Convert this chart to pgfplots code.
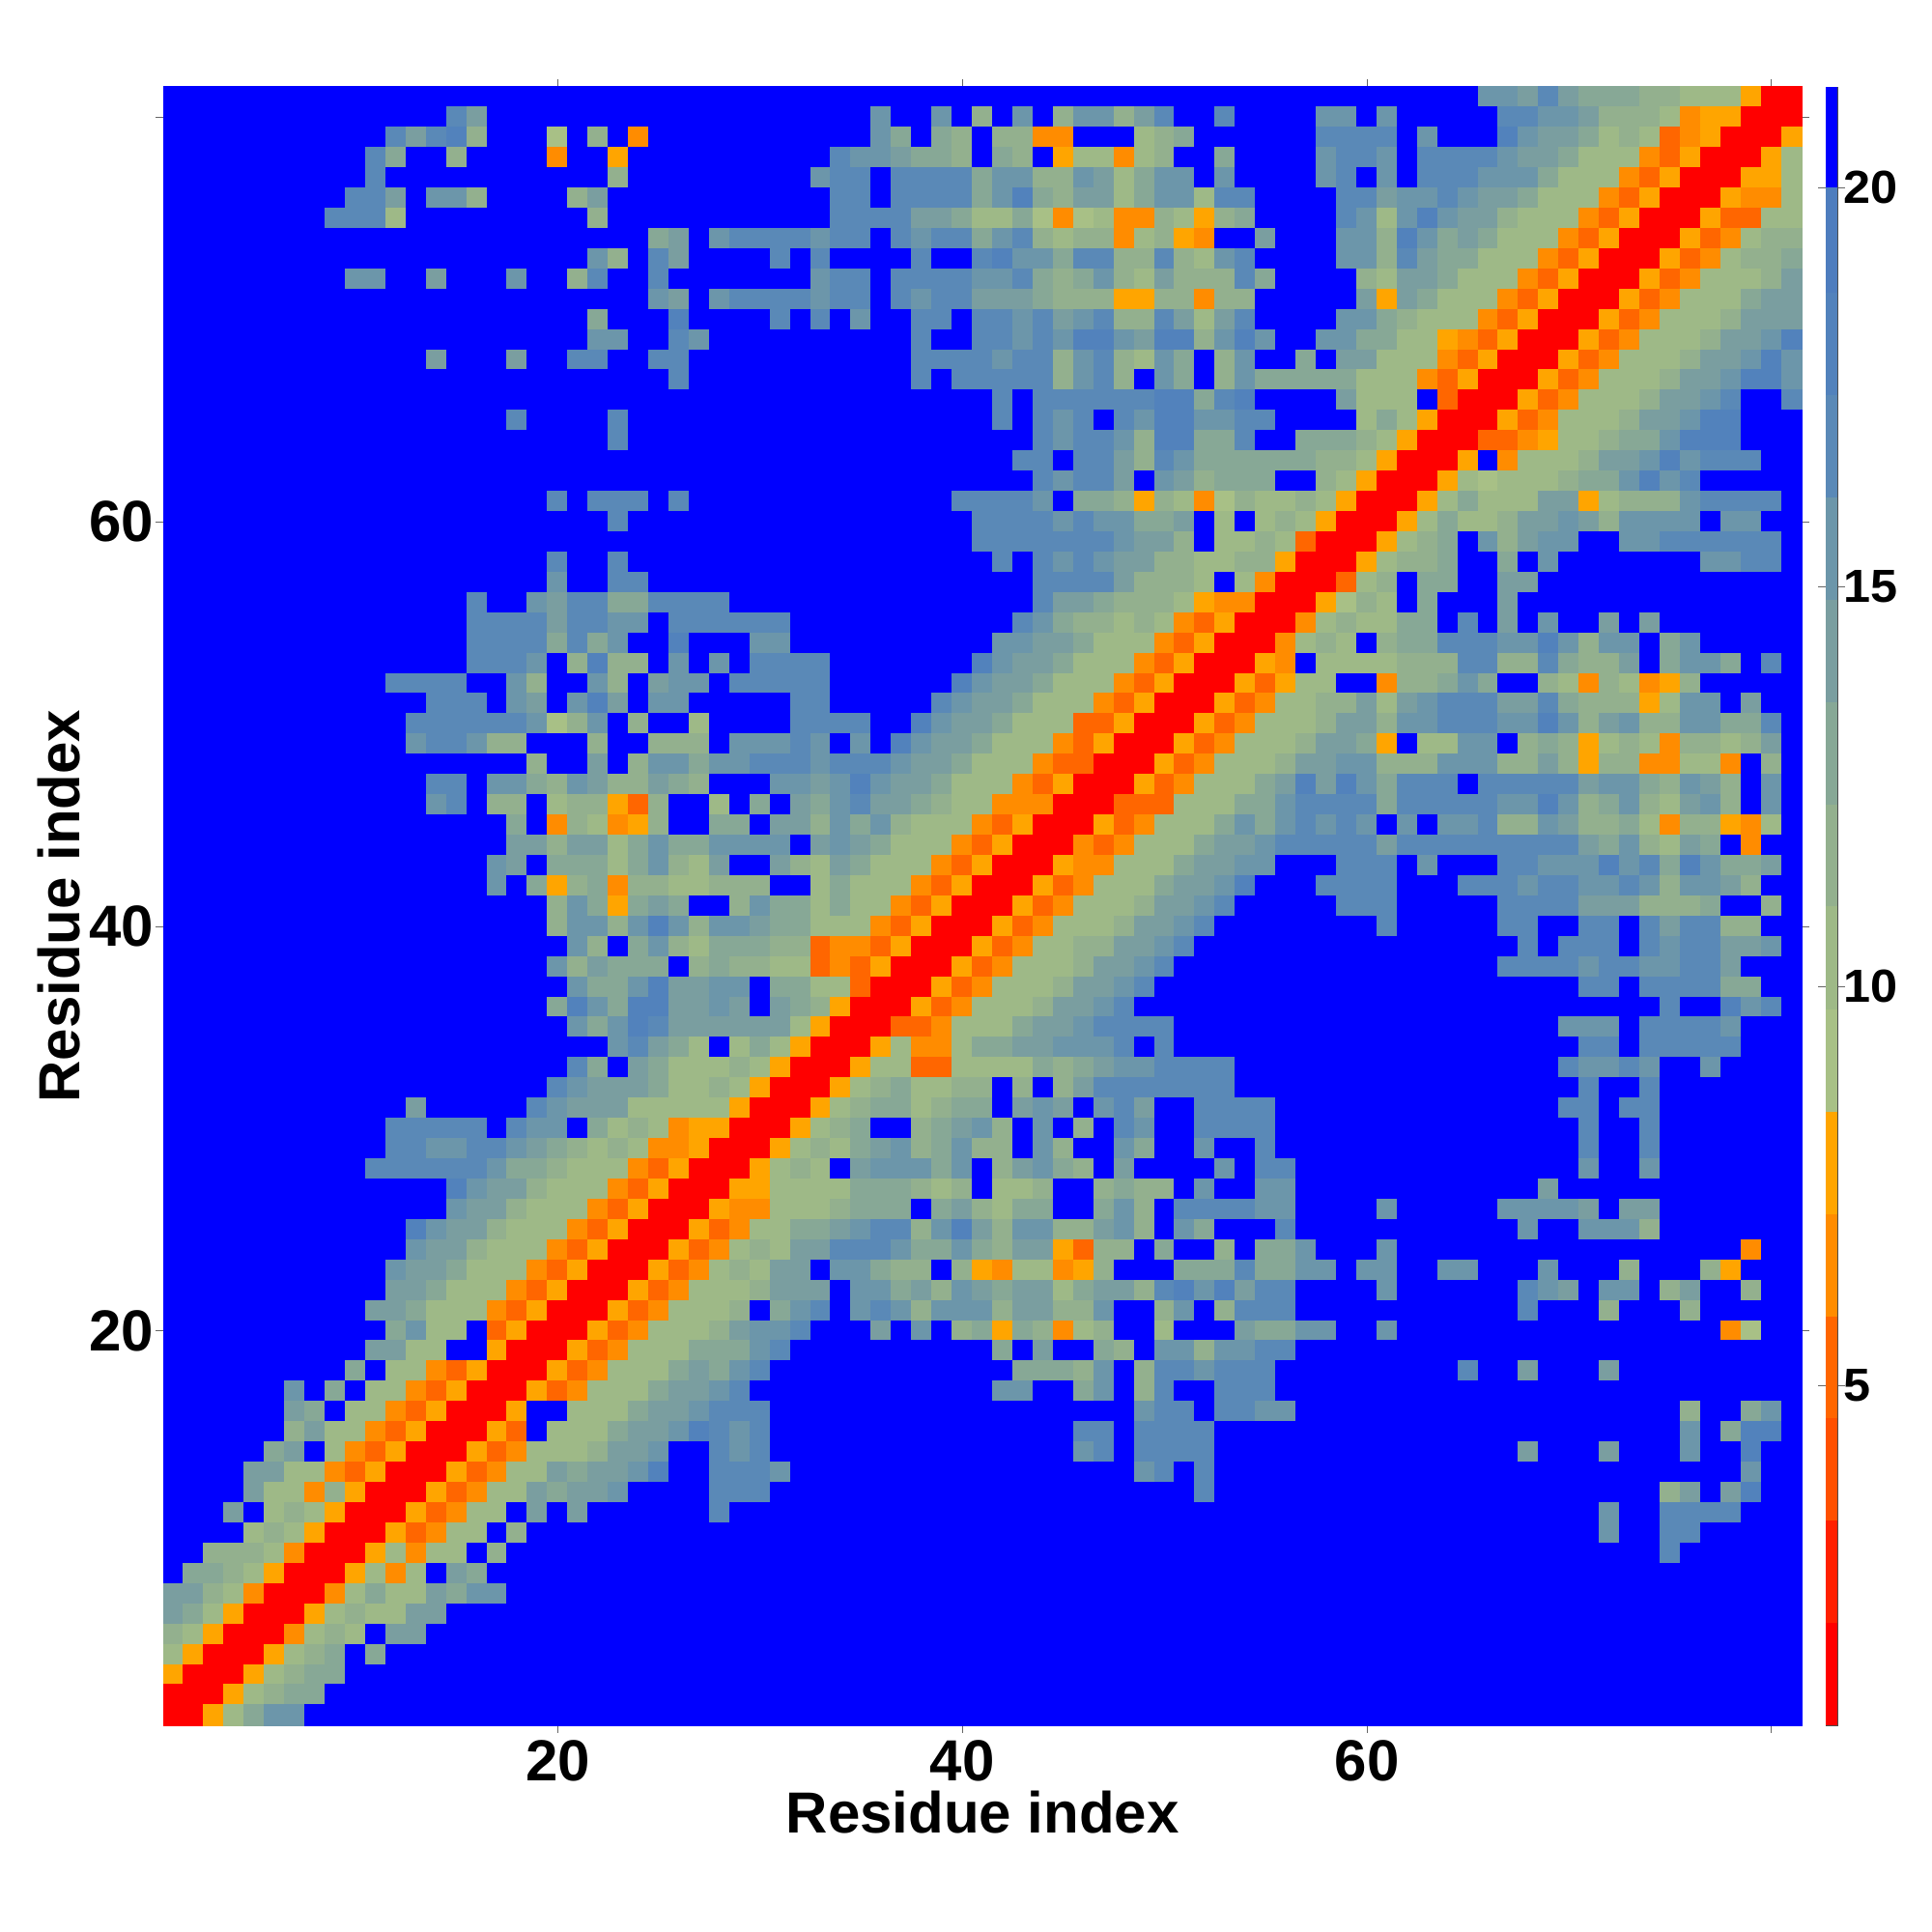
\documentclass[border=0pt]{standalone}
\usepackage{fontspec}
\setmainfont{Liberation Sans}
\newfontfamily\cbf[FakeStretch=1.05]{Liberation Sans}
\usepackage{pgfplots}
\usepackage{pgfplotstable}
\pgfplotsset{compat=1.18}
\definecolor{c1}{RGB}{255,0,0}
\definecolor{c2}{RGB}{255,32,0}
\definecolor{c3}{RGB}{255,80,0}
\definecolor{c4}{RGB}{255,102,0}
\definecolor{c5}{RGB}{255,140,0}
\definecolor{c6}{RGB}{255,165,0}
\definecolor{c7}{RGB}{168,192,134}
\definecolor{c8}{RGB}{158,185,135}
\definecolor{c9}{RGB}{147,176,142}
\definecolor{c10}{RGB}{135,168,150}
\definecolor{c11}{RGB}{122,158,160}
\definecolor{c12}{RGB}{108,150,170}
\definecolor{c13}{RGB}{90,137,183}
\definecolor{c14}{RGB}{82,130,188}
\definecolor{c15}{RGB}{78,125,190}
\definecolor{c16}{RGB}{0,0,255}
\pgfplotstableread[header=false]{
81  21 21 21 21 21 21 21 21 21  21 21 21 21 21 21 21 21 21  21 21 21 21 21 21 21 21 21  21 21 21 21 21 21 21 21 21  21 21 21 21 21 21 21 21 21  21 21 21 21 21 21 21 21 21  21 21 21 21 21 21 21 21 21  21 21 16 15 14 17 14 13 13  13 12 12 10 10 10 8 1 1
80  21 21 21 21 21 21 21 21 21  21 21 21 21 21 17 14 21 21  21 21 21 21 21 21 21 21 21  21 21 21 21 21 21 21 21 16  21 21 15 21 12 21 15 21 12  15 15 12 14 17 21 21 17 21  21 21 21 16 16 21 16 21 21  21 21 21 17 17 15 15 14 12  12 12 10 6 8 8 1 1 1
79  21 21 21 21 21 21 21 21 21  21 21 17 14 17 18 12 21 21  21 9 21 12 21 6 21 21 21  21 21 21 21 21 21 21 21 15  13 21 13 12 21 12 12 6 6  21 21 21 10 12 13 21 21 21  21 21 21 17 17 17 17 21 16  21 21 21 18 15 14 14 13 10  12 10 5 6 8 1 1 1 8
78  21 21 21 21 21 21 21 21 21  21 17 13 21 21 12 21 21 21  21 6 21 21 8 21 21 21 21  21 21 21 21 21 21 17 15 16  14 13 13 12 21 13 12 21 8  10 10 6 10 12 21 21 13 21  21 21 21 15 17 17 15 21 17  17 17 17 16 14 14 13 10 10  10 6 5 8 1 1 1 8 10
77  21 21 21 21 21 21 21 21 21  21 17 21 21 21 21 21 21 21  21 21 21 21 12 21 21 21 21  21 21 21 21 21 15 17 17 21  17 17 17 17 13 16 16 12 12  16 14 10 13 16 16 21 15 21  21 21 21 15 17 21 15 21 17  17 17 15 15 15 13 10 10 10  6 5 8 1 1 1 8 8 10
76  21 21 21 21 21 21 21 21 21  17 17 14 21 16 16 12 21 21  21 21 12 14 21 21 21 21 21  21 21 21 21 21 21 17 17 21  17 17 17 17 13 15 18 13 12  14 14 10 13 16 16 10 17 17  21 21 21 21 17 17 14 16 15  17 15 14 14 13 10 10 10 6  5 8 1 1 1 8 6 6 10
75  21 21 21 21 21 21 21 21 17  17 17 10 21 21 21 21 21 21  21 21 21 12 21 21 21 21 21  21 21 21 21 21 21 17 17 17  17 14 14 13 10 10 13 9 6  9 10 6 6 12 10 8 12 13  21 21 21 21 17 15 10 16 18  15 14 14 12 10 10 10 6 5  8 1 1 1 8 5 5 10 10
74  21 21 21 21 21 21 21 21 21  21 21 21 21 21 21 21 21 21  21 21 21 21 21 21 13 14 21  15 17 17 17 17 16 17 17 21  17 15 17 17 13 15 17 12 10  12 12 6 10 12 8 6 21 21  14 21 21 21 16 16 12 18 15  13 14 13 10 10 10 6 5 8  1 1 1 8 5 6 10 12 12
73  21 21 21 21 21 21 21 21 21  21 21 21 21 21 21 21 21 21  21 21 21 15 12 21 17 14 21  21 21 21 17 21 17 21 21 21  21 17 21 21 17 18 15 15 13  17 17 12 12 17 12 10 15 17  21 21 21 21 16 16 12 17 14  13 13 10 10 10 6 5 8 1  1 1 8 5 6 10 12 12 13
72  21 21 21 21 21 21 21 21 21  15 15 21 21 14 21 21 21 15  21 21 12 17 21 21 17 21 21  21 21 21 21 21 15 17 17 21  17 17 17 17 16 16 17 13 12  13 16 12 10 14 12 12 12 17  13 21 21 21 21 12 10 14 14  13 10 10 10 6 5 8 1 1  1 8 5 6 10 10 10 12 14
71  21 21 21 21 21 21 21 21 21  21 21 21 21 21 21 21 21 21  21 21 21 21 21 21 16 14 21  15 17 17 17 17 15 17 17 21  17 15 17 17 14 14 14 13 12  12 12 8 8 12 12 6 12 12  21 21 21 21 21 14 8 14 13  10 10 10 6 5 8 1 1 1  8 5 6 10 10 10 13 14 14
70  21 21 21 21 21 21 21 21 21  21 21 21 21 21 21 21 21 21  21 21 21 13 21 21 21 18 21  21 21 21 17 21 17 21 16 21  21 17 17 21 17 17 15 17 14  16 17 12 12 17 14 10 14 17  21 21 21 21 15 15 13 12 10  10 10 6 5 8 1 1 1 8  5 6 10 10 10 12 14 14 14
69  21 21 21 21 21 21 21 21 21  21 21 21 21 21 21 21 21 21  21 21 21 16 16 21 21 17 15  21 21 21 21 21 21 21 21 21  21 17 21 21 17 17 16 17 16  18 18 15 14 18 18 12 16 18  15 21 21 15 15 13 13 10 10  8 6 5 8 1 1 1 8 5  6 10 10 10 12 14 14 15 18
68  21 21 21 21 21 21 21 21 21  21 21 21 21 14 21 21 21 14  21 21 17 17 21 21 17 17 21  21 21 21 21 21 21 21 21 21  21 17 17 17 17 16 17 17 12  16 17 12 10 15 13 21 12 16  21 21 13 21 14 14 10 10 10  6 5 8 1 1 1 8 5 6  10 10 10 12 14 14 15 18 15
67  21 21 21 21 21 21 21 21 21  21 21 21 21 21 21 21 21 21  21 21 21 21 21 21 21 17 21  21 21 21 21 21 21 21 21 21  21 17 21 17 17 17 17 17 12  16 17 12 21 15 13 21 12 15  13 13 13 13 13 10 10 10 6  5 8 1 1 1 8 5 6 10  10 10 12 14 14 15 18 18 16
66  21 21 21 21 21 21 21 21 21  21 21 21 21 21 21 21 21 21  21 21 21 21 21 21 21 21 21  21 21 21 21 21 21 21 21 21  21 21 21 21 21 17 21 17 17  17 17 17 17 18 18 13 17 18  21 21 21 21 14 10 10 10 21  5 1 1 1 8 5 6 10 10  10 12 14 14 15 17 21 21 17
65  21 21 21 21 21 21 21 21 21  21 21 21 21 21 21 21 21 17  21 21 21 21 17 21 21 21 21  21 21 21 21 21 21 21 21 21  21 21 21 21 21 17 21 17 16  17 21 17 16 18 18 16 16 17  17 21 21 21 21 10 13 10 8  1 1 1 8 5 6 10 10 10  12 14 14 15 18 18 21 21 21
64  21 21 21 21 21 21 21 21 21  21 21 21 21 21 21 21 21 21  21 21 21 21 17 21 21 21 21  21 21 21 21 21 21 21 21 21  21 21 21 21 21 21 21 17 16  17 17 15 12 18 18 13 13 17  21 21 13 13 13 12 10 8 1  1 1 5 5 6 8 10 10 12  13 13 15 18 18 18 21 21 21
63  21 21 21 21 21 21 21 21 21  21 21 21 21 21 21 21 21 21  21 21 21 21 21 21 21 21 21  21 21 21 21 21 21 21 21 21  21 21 21 21 21 21 17 17 21  17 17 14 12 17 16 13 13 13  13 13 13 12 12 10 8 1 1  1 8 21 6 10 10 10 12 14  14 16 18 15 17 17 17 21 21
62  21 21 21 21 21 21 21 21 21  21 21 21 21 21 21 21 21 21  21 21 21 21 21 21 21 21 21  21 21 21 21 21 21 21 21 21  21 21 21 21 21 21 21 17 16  17 17 14 21 16 14 12 13 13  13 21 21 12 10 8 1 1 1  8 10 9 10 10 10 12 13 13  16 18 15 17 21 21 21 21 21
61  21 21 21 21 21 21 21 21 21  21 21 21 21 21 21 21 21 21  21 17 21 17 17 17 21 17 21  21 21 21 21 21 21 21 21 21  21 21 21 17 17 17 17 15 21  13 13 12 8 12 10 6 9 12  10 10 12 10 8 1 1 1 8  10 13 10 10 10 14 14 8 10  12 12 12 16 17 17 17 17 21
60  21 21 21 21 21 21 21 21 21  21 21 21 21 21 21 21 21 21  21 21 21 21 17 21 21 21 21  21 21 21 21 21 21 21 21 21  21 21 21 21 17 17 17 17 16  17 15 16 13 13 14 21 10 21  10 12 10 8 1 1 1 8 10  13 10 10 12 14 14 15 14 12  16 16 16 16 21 16 16 21 21
59  21 21 21 21 21 21 21 21 21  21 21 21 21 21 21 21 21 21  21 21 21 21 21 21 21 21 21  21 21 21 21 21 21 21 21 21  21 21 21 21 17 17 17 17 17  17 17 15 14 14 12 21 10 10  12 10 5 1 1 1 8 10 12  13 21 15 12 14 15 15 21 21  16 16 17 17 17 17 17 17 21
58  21 21 21 21 21 21 21 21 21  21 21 21 21 21 21 21 21 21  21 17 21 21 17 21 21 21 21  21 21 21 21 21 21 21 21 21  21 21 21 21 21 17 21 17 15  17 15 14 14 12 12 10 10 12  12 8 1 1 1 8 10 12 12  13 21 21 13 21 15 21 21 21  21 21 21 21 16 16 17 17 21
57  21 21 21 21 21 21 21 21 21  21 21 21 21 21 21 21 21 21  21 16 21 21 17 17 21 21 21  21 21 21 21 21 21 21 21 21  21 21 21 21 21 21 21 17 17  17 17 14 12 12 12 10 21 10  6 1 1 1 5 10 12 21 13  13 21 21 14 14 21 21 21 21  21 21 21 21 21 21 21 21 21
56  21 21 21 21 21 21 21 21 21  21 21 21 21 21 21 17 21 21  16 14 17 17 13 13 17 17 17  17 21 21 21 21 21 21 21 21  21 21 21 21 21 21 21 17 14  14 13 12 12 12 10 8 6 6  1 1 1 8 9 12 10 21 13  21 21 21 14 21 21 21 21 21  21 21 21 21 21 21 21 21 21
55  21 21 21 21 21 21 21 21 21  21 21 21 21 21 21 17 17 17  17 14 17 17 15 15 21 17 17  17 17 17 17 21 21 21 21 21  21 21 21 21 21 21 17 15 13  12 12 10 12 10 6 5 8 1  1 1 6 10 12 10 10 13 13  21 17 21 14 21 15 21 21 14  21 14 21 21 21 21 21 21 21
54  21 21 21 21 21 21 21 21 21  21 21 21 21 21 21 17 17 17  17 13 17 13 16 21 21 18 21  21 21 15 15 21 21 21 21 21  21 21 21 21 21 16 15 14 14  13 10 10 10 6 5 8 1 1  1 6 10 12 10 21 12 13 13  17 17 17 15 15 18 15 12 16  16 21 13 16 21 21 21 21 21
53  21 21 21 21 21 21 21 21 21  21 21 21 21 21 21 17 17 17  16 21 12 18 12 12 21 15 21  15 21 17 17 17 17 21 21 21  21 21 21 21 18 15 14 14 13  10 10 10 6 5 8 1 1 1  8 6 21 10 10 10 10 12 12  12 17 17 12 12 17 13 12 12  14 21 13 16 15 13 21 17 21
52  21 21 21 21 21 21 21 21 21  21 21 17 17 17 17 21 21 16  12 21 21 16 12 21 14 16 15  21 17 17 17 17 17 21 21 21  21 21 21 18 16 14 14 13 10  10 10 6 5 8 1 1 1 8  5 8 10 10 21 21 6 12 12  13 16 13 21 21 12 10 6 12  10 6 8 12 21 21 21 21 21
51  21 21 21 21 21 21 21 21 21  21 21 21 21 17 17 17 21 16  14 21 16 18 14 21 16 16 21  21 21 21 21 17 17 21 21 21  21 21 17 15 14 14 13 10 10  10 6 5 8 1 1 1 8 5  6 10 10 12 12 14 10 14 16  17 17 17 14 14 17 13 12 12  12 8 10 15 15 21 14 21 21
50  21 21 21 21 21 21 21 21 21  21 21 21 17 17 17 17 17 17  16 9 12 16 21 12 21 21 10  21 21 21 21 17 17 17 17 21  21 18 15 14 14 13 10 10 10  5 5 8 1 1 1 8 5 6  10 10 10 12 14 14 12 16 16  17 17 17 15 15 18 16 12 14  16 12 12 15 15 13 13 17 21
49  21 21 21 21 21 21 21 21 21  21 21 21 15 17 17 15 12 12  21 21 21 12 21 21 12 12 12  21 15 15 15 17 15 21 16 21  18 15 14 14 13 10 10 10 6  5 8 1 1 1 8 5 6 10  10 10 12 14 14 13 8 21 10  10 15 15 21 12 13 12 8 10  12 10 6 12 12 10 12 14 21
48  21 21 21 21 21 21 21 21 21  21 21 21 21 21 21 21 21 21  12 21 21 14 21 12 15 15 13  15 15 17 17 17 15 17 17 17  16 14 14 13 10 10 10 6 5  5 1 1 1 8 5 6 10 10  10 12 14 14 15 16 12 12 12  15 16 16 12 12 14 12 8 12  12 6 6 10 10 6 21 12 21
47  21 21 21 21 21 21 21 21 21  21 21 21 21 17 17 21 16 16  13 12 16 14 12 12 14 13 12  21 21 21 16 16 14 16 18 15  14 14 13 10 10 10 6 5 8  1 1 1 8 5 6 10 10 10  13 14 18 14 18 15 13 17 17  17 21 17 17 17 17 17 14 16  16 13 12 15 14 12 21 15 21
46  21 21 21 21 21 21 21 21 21  21 21 21 21 15 17 21 12 12  21 10 12 12 8 5 12 21 21  10 21 13 21 14 13 16 17 14  14 13 12 10 10 6 6 6 1  1 1 5 5 5 10 10 10 13  13 15 17 17 17 17 13 17 17  17 17 17 15 15 18 15 12 13  16 12 10 14 16 12 21 15 21
45  21 21 21 21 21 21 21 21 21  21 21 21 21 21 21 21 21 13  21 6 12 10 6 8 12 21 21  13 13 21 14 14 12 15 13 15  12 10 10 10 6 5 8 1 1  1 8 5 6 10 10 10 13 15  13 15 17 15 17 15 21 15 21  16 16 17 12 12 16 14 12 12  13 10 6 12 12 8 6 10 21
44  21 21 21 21 21 21 21 21 21  21 21 21 21 21 21 21 21 14  14 12 14 14 10 13 16 13 13  15 15 15 15 21 14 15 14 13  10 10 10 6 5 8 1 1 1  6 5 6 10 10 10 13 14 14  15 17 17 17 17 17 14 17 17  17 17 17 17 17 17 17 14 13  16 12 10 14 13 21 6 21 21
43  21 21 21 21 21 21 21 21 21  21 21 21 21 21 21 21 15 14  21 13 13 13 10 13 15 12 10  14 21 21 14 12 10 14 13 10  10 10 6 5 8 1 1 1 8  6 6 10 10 10 13 14 14 15  16 21 21 21 17 17 17 21 16  21 21 21 17 17 15 15 15 18  15 17 13 18 16 13 13 14 21
42  21 21 21 21 21 21 21 21 21  21 21 21 21 21 21 21 15 21  13 8 12 13 6 12 12 10 10  12 12 12 21 21 10 13 10 10  10 6 5 8 1 1 1 8 5  6 10 10 10 13 14 14 15 18  21 21 21 17 17 17 17 21 21  21 17 17 17 16 17 17 15 15  17 15 12 15 16 14 12 21 21
41  21 21 21 21 21 21 21 21 21  21 21 21 21 21 21 21 21 21  21 12 15 13 8 13 14 13 21  21 12 16 13 13 10 13 10 10  6 5 8 1 1 1 8 5 6  10 10 10 12 14 14 15 17 21  21 21 21 21 17 17 17 21 21  21 21 21 17 17 17 17 14 14  14 12 12 12 13 21 21 12 21
40  21 21 21 21 21 21 21 21 21  21 21 21 21 21 21 21 21 21  21 12 16 16 12 15 18 15 12  16 16 14 13 13 10 10 10 6  5 8 1 1 1 8 5 6 10  10 10 12 14 14 15 17 21 21  21 21 21 21 21 21 17 21 21  21 21 21 17 17 21 21 17 17  21 17 14 17 17 12 12 21 21
39  21 21 21 21 21 21 21 21 21  21 21 21 21 21 21 21 21 21  21 21 15 12 21 13 15 12 10  13 13 13 12 12 5 6 6 5  8 1 1 1 8 5 6 10 10  12 12 14 14 15 17 21 21 21  21 21 21 21 21 21 21 21 21  21 21 21 21 17 21 17 17 17  21 17 15 17 17 14 14 15 21
38  21 21 21 21 21 21 21 21 21  21 21 21 21 21 21 21 21 21  21 15 12 14 13 13 13 21 12  13 12 12 10 10 5 6 5 8  1 1 1 8 5 6 10 10 10  12 14 14 15 17 21 21 21 21  21 21 21 21 21 21 21 21 21  21 21 21 17 17 17 17 16 17  17 16 15 17 17 14 21 21 21
37  21 21 21 21 21 21 21 21 21  21 21 21 21 21 21 21 21 21  21 21 15 13 13 16 18 14 14  16 15 21 13 13 10 10 5 1  1 1 8 5 6 10 10 10 12  14 14 15 17 21 21 21 21 21  21 21 21 21 21 21 21 21 21  21 21 21 21 21 21 21 17 17  21 17 17 17 17 13 13 21 21
36  21 21 21 21 21 21 21 21 21  21 21 21 21 21 21 21 21 21  21 13 18 15 13 18 18 14 14  16 14 21 14 13 12 8 1 1  1 8 5 6 10 10 10 12 14  14 15 17 21 21 21 21 21 21  21 21 21 21 21 21 21 21 21  21 21 21 21 21 21 21 21 21  21 21 17 21 21 18 15 17 21
35  21 21 21 21 21 21 21 21 21  21 21 21 21 21 21 21 21 21  21 21 15 13 16 18 17 14 14  14 14 14 14 10 8 1 1 1  5 5 6 10 10 10 13 14 14  15 17 17 17 17 21 21 21 21  21 21 21 21 21 21 21 21 21  21 21 21 21 21 21 16 16 16  21 17 17 17 17 16 21 21 21
34  21 21 21 21 21 21 21 21 21  21 21 21 21 21 21 21 21 21  21 21 21 21 16 17 14 13 10  21 10 13 10 8 1 1 1 8  10 6 6 10 13 13 14 14 16  16 16 17 21 17 21 21 21 21  21 21 21 21 21 21 21 21 21  21 21 21 21 21 21 21 17 17  21 17 17 17 17 17 21 21 21
33  21 21 21 21 21 21 21 21 21  21 21 21 21 21 21 21 21 21  21 21 17 13 21 14 13 10 10  10 12 10 8 1 1 1 8 10  10 5 5 10 10 10 10 13 12  13 14 15 15 17 17 17 17 21  21 21 21 21 21 21 21 21 21  21 21 21 21 21 21 17 16 16  17 15 21 21 16 21 21 21 21
32  21 21 21 21 21 21 21 21 21  21 21 21 21 21 21 21 21 21  21 17 15 14 14 14 13 10 10  12 10 8 1 1 1 8 10 12  13 10 10 12 12 21 12 21 12  14 17 17 17 17 17 17 17 21  21 21 21 21 21 21 21 21 21  21 21 21 21 21 21 21 17 21  21 17 21 21 21 21 21 21 21
31  21 21 21 21 21 21 21 21 21  21 21 21 14 21 21 21 21 21  17 15 14 14 14 10 10 10 10  10 8 1 1 1 8 10 12 13  13 10 12 13 13 21 14 15 14  21 16 17 14 21 21 17 17 17  17 21 21 21 21 21 21 21 21  21 21 21 21 21 21 17 17 21  17 17 21 21 21 21 21 21 21
30  21 21 21 21 21 21 21 21 21  21 21 17 17 17 17 17 21 17  15 15 21 13 10 12 10 6 8  8 1 1 1 8 10 12 13 21  21 12 13 14 16 12 21 15 21  12 21 17 15 21 21 17 17 17  17 21 21 21 21 21 21 21 21  21 21 21 21 21 21 21 17 21  21 17 21 21 21 21 21 21 21
29  21 21 21 21 21 21 21 21 21  21 21 17 17 15 15 17 17 15  14 13 12 10 12 10 6 6 8  1 1 1 8 10 12 10 13 14  15 12 13 15 12 12 21 15 12  21 21 15 13 21 21 16 21 21  17 21 21 21 21 21 21 21 21  21 21 21 21 21 21 21 17 21  21 17 21 21 21 21 21 21 21
28  21 21 21 21 21 21 21 21 21  21 17 17 17 17 17 17 15 13  13 12 10 10 10 6 5 8 1  1 1 8 10 12 10 21 14 15  15 15 13 15 21 12 14 15 13  12 21 14 21 21 21 21 16 21  17 17 21 21 21 21 21 21 21  21 21 21 21 21 21 21 16 21  21 15 21 21 21 21 21 21 21
27  21 21 21 21 21 21 21 21 21  21 21 21 21 21 18 15 14 14  12 10 10 10 6 5 8 1 1  1 8 8 10 10 10 10 13 13  13 12 10 12 21 10 10 12 21  21 12 13 12 12 21 15 21 21  15 15 21 21 21 21 21 21 21  21 21 21 21 21 14 21 21 21  21 21 21 21 21 21 21 21 21
26  21 21 21 21 21 21 21 21 21  21 21 21 21 21 16 14 14 12  10 10 10 6 5 8 1 1 1  8 6 6 10 10 10 12 13 13  13 21 13 14 12 10 13 13 21  21 13 16 12 21 17 17 17 17  15 15 21 21 21 21 15 21 21  21 21 21 16 16 16 16 14 21  14 14 21 21 21 21 21 21 21
25  21 21 21 21 21 21 21 21 21  21 21 21 18 16 14 14 12 10  10 10 6 5 8 1 1 1 8  5 6 10 10 13 13 14 15 17  17 12 15 18 14 12 15 15 12  12 14 15 12 21 16 13 21 21  21 17 21 21 21 21 21 21 21  21 21 21 21 16 21 21 15 15  15 12 21 21 21 21 21 21 21
24  21 21 21 21 21 21 21 21 21  21 21 21 16 14 14 12 10 10  10 6 5 8 1 1 1 8 5  6 10 12 10 14 14 17 17 17  16 13 13 15 13 12 14 14 8  5 12 12 21 13 21 21 12 21  13 13 16 21 21 21 16 21 21  21 21 21 21 21 21 21 21 21  21 21 21 21 21 21 6 21 21
23  21 21 21 21 21 21 21 21 21  21 21 15 14 14 13 10 10 10  6 5 8 1 1 1 8 5 6  10 12 10 14 14 21 16 16 13  12 12 21 12 8 6 10 10 6  8 12 21 21 21 13 13 13 17  13 13 16 16 21 16 16 21 21  16 16 21 21 21 15 21 21 21  12 21 21 21 12 8 21 21 21
22  21 21 21 21 21 21 21 21 21  21 21 14 14 13 10 10 10 6  5 8 1 1 1 8 5 6 10  10 10 12 14 14 14 21 15 15  13 14 12 16 14 13 14 14 10  13 14 14 12 17 18 16 18 14  17 17 21 21 21 21 16 21 21  21 21 21 21 17 15 14 21 16  15 21 12 14 21 21 12 21 21
21  21 21 21 21 21 21 21 21 21  21 14 14 13 10 10 10 6 5  8 1 1 1 8 5 6 10 10  10 12 21 13 15 17 21 15 17  16 12 15 16 16 12 14 14 12  12 15 21 21 12 16 21 12 17  17 17 21 21 21 21 21 21 21  21 21 21 21 17 21 21 21 12  21 21 21 12 21 21 21 21 21
20  21 21 21 21 21 21 21 21 21  21 21 13 15 10 10 21 5 8  1 1 1 8 5 6 10 10 10  12 14 15 15 17 21 21 21 14  21 15 21 12 13 8 13 12 6  10 12 21 21 10 21 21 21 14  13 13 16 16 21 21 16 21 21  21 21 21 21 21 21 21 21 21  21 21 21 21 21 6 9 21 21
19  21 21 21 21 21 21 21 21 21  21 14 14 10 10 21 21 8 1  1 1 8 5 6 10 10 10 13  13 13 15 17 21 21 21 21 21  21 21 21 21 21 13 21 14 21  21 13 12 21 16 15 12 15 16  17 17 21 21 21 21 21 21 21  21 21 21 21 21 21 21 21 21  21 21 21 21 21 21 21 21 21
18  21 21 21 21 21 21 21 21 21  13 21 10 10 6 5 8 1 1  1 8 5 6 10 10 10 13 14  13 15 17 21 21 21 21 21 21  21 21 21 21 21 21 13 13 13  12 15 21 12 17 17 16 17 17  17 21 21 21 21 21 21 21 21  21 17 21 21 14 21 21 21 14  21 21 21 21 21 21 21 21 21
17  21 21 21 21 21 21 15 21 13  21 10 10 6 5 8 1 1 1  8 5 6 10 10 10 13 14 14  15 17 21 21 21 21 21 21 21  21 21 21 21 21 16 16 21 21  13 16 21 12 17 21 21 17 17  17 21 21 21 21 21 21 21 21  21 21 21 21 21 21 21 21 21  21 21 21 21 21 21 21 21 21
16  21 21 21 21 21 21 14 13 21  10 10 6 5 8 1 1 1 8  21 21 10 10 10 13 14 14 15  17 17 17 21 21 21 21 21 21  21 21 21 21 21 21 21 21 21  21 21 21 16 17 17 21 17 17  16 16 21 21 21 21 21 21 21  21 21 21 21 21 21 21 21 21  21 21 21 12 21 21 13 15 21
15  21 21 21 21 21 21 12 14 10  10 6 5 8 1 1 1 8 5  21 10 10 10 13 14 14 15 18  17 16 17 21 21 21 21 21 21  21 21 21 21 21 21 21 21 21  17 17 21 17 17 17 17 21 21  21 21 21 21 21 21 21 21 21  21 21 21 21 21 21 21 21 21  21 21 21 15 21 13 18 18 21
14  21 21 21 21 21 13 14 21 10  6 5 8 1 1 1 8 5 6  10 10 10 12 14 14 15 21 21  17 15 17 21 21 21 21 21 21  21 21 21 21 21 21 21 21 21  16 17 21 17 17 17 17 21 21  21 21 21 21 21 21 21 21 21  21 21 21 21 14 21 21 21 14  21 21 21 15 21 21 18 21 21
13  21 21 21 21 14 14 10 10 6  5 8 1 1 1 8 5 6 10  10 14 13 14 14 16 18 21 21  17 17 17 15 21 21 21 21 21  21 21 21 21 21 21 21 21 21  21 21 21 16 17 21 17 21 21  21 21 21 21 21 21 21 21 21  21 21 21 21 21 21 21 21 21  21 21 21 21 21 21 16 21 21
12  21 21 21 21 14 10 10 6 12  8 1 1 1 8 5 6 10 10  14 13 14 14 16 21 21 21 21  17 17 17 21 21 21 21 21 21  21 21 21 21 21 21 21 21 21  21 21 21 21 21 21 17 21 21  21 21 21 21 21 21 21 21 21  21 21 21 21 21 21 21 21 21  21 21 12 14 21 14 18 21 21
11  21 21 21 14 21 10 12 10 8  1 1 1 8 5 6 10 10 21  14 21 14 21 21 21 21 21 21  17 21 21 21 21 21 21 21 21  21 21 21 21 21 21 21 21 21  21 21 21 21 21 21 21 21 21  21 21 21 21 21 21 21 21 21  21 21 21 21 21 21 21 21 15  21 21 17 17 17 17 21 21 21
10  21 21 21 21 10 12 10 8 1  1 1 8 5 6 10 10 21 12  21 21 21 21 21 21 21 21 21  21 21 21 21 21 21 21 21 21  21 21 21 21 21 21 21 21 21  21 21 21 21 21 21 21 21 21  21 21 21 21 21 21 21 21 21  21 21 21 21 21 21 21 21 15  21 21 17 17 21 21 21 21 21
9  21 21 12 12 12 10 6 1 1  1 8 10 6 10 10 21 12 21  21 21 21 21 21 21 21 21 21  21 21 21 21 21 21 21 21 21  21 21 21 21 21 21 21 21 21  21 21 21 21 21 21 21 21 21  21 21 21 21 21 21 21 21 21  21 21 21 21 21 21 21 21 21  21 21 17 21 21 21 21 21 21
8  21 13 13 12 10 8 1 1 1  8 10 6 10 21 14 13 21 21  21 21 21 21 21 21 21 21 21  21 21 21 21 21 21 21 21 21  21 21 21 21 21 21 21 21 21  21 21 21 21 21 21 21 21 21  21 21 21 21 21 21 21 21 21  21 21 21 21 21 21 21 21 21  21 21 21 21 21 21 21 21 21
7  14 14 12 10 6 1 1 1 6  10 13 10 10 14 13 15 16 21  21 21 21 21 21 21 21 21 21  21 21 21 21 21 21 21 21 21  21 21 21 21 21 21 21 21 21  21 21 21 21 21 21 21 21 21  21 21 21 21 21 21 21 21 21  21 21 21 21 21 21 21 21 21  21 21 21 21 21 21 21 21 21
6  14 13 10 8 1 1 1 8 10  12 10 10 14 14 21 21 21 21  21 21 21 21 21 21 21 21 21  21 21 21 21 21 21 21 21 21  21 21 21 21 21 21 21 21 21  21 21 21 21 21 21 21 21 21  21 21 21 21 21 21 21 21 21  21 21 21 21 21 21 21 21 21  21 21 21 21 21 21 21 21 21
5  12 10 8 1 1 1 6 10 12  10 21 14 14 21 21 21 21 21  21 21 21 21 21 21 21 21 21  21 21 21 21 21 21 21 21 21  21 21 21 21 21 21 21 21 21  21 21 21 21 21 21 21 21 21  21 21 21 21 21 21 21 21 21  21 21 21 21 21 21 21 21 21  21 21 21 21 21 21 21 21 21
4  10 8 1 1 1 8 10 12 13  21 13 21 21 21 21 21 21 21  21 21 21 21 21 21 21 21 21  21 21 21 21 21 21 21 21 21  21 21 21 21 21 21 21 21 21  21 21 21 21 21 21 21 21 21  21 21 21 21 21 21 21 21 21  21 21 21 21 21 21 21 21 21  21 21 21 21 21 21 21 21 21
3  8 1 1 1 8 10 12 13 13  21 21 21 21 21 21 21 21 21  21 21 21 21 21 21 21 21 21  21 21 21 21 21 21 21 21 21  21 21 21 21 21 21 21 21 21  21 21 21 21 21 21 21 21 21  21 21 21 21 21 21 21 21 21  21 21 21 21 21 21 21 21 21  21 21 21 21 21 21 21 21 21
2  1 1 1 8 10 12 13 13 21  21 21 21 21 21 21 21 21 21  21 21 21 21 21 21 21 21 21  21 21 21 21 21 21 21 21 21  21 21 21 21 21 21 21 21 21  21 21 21 21 21 21 21 21 21  21 21 21 21 21 21 21 21 21  21 21 21 21 21 21 21 21 21  21 21 21 21 21 21 21 21 21
1  1 1 8 10 13 15 15 21 21  21 21 21 21 21 21 21 21 21  21 21 21 21 21 21 21 21 21  21 21 21 21 21 21 21 21 21  21 21 21 21 21 21 21 21 21  21 21 21 21 21 21 21 21 21  21 21 21 21 21 21 21 21 21  21 21 21 21 21 21 21 21 21  21 21 21 21 21 21 21 21 21
}\contactdata
\begin{document}
\begin{tikzpicture}
\path[use as bounding box] (-84.6pt,-107pt) rectangle (915.4pt,893pt);
\begin{axis}[
  scale only axis, width=848pt, height=848pt,
  xmin=0.5, xmax=81.5, ymin=0.5, ymax=81.5,
  xtick={20,40,60,80}, ytick={20,40,60,80},
  xticklabels={20,40,60,}, yticklabels={20,40,60,},
  tick align=outside, tick pos=both, major tick length=4pt,
  tick style={line width=0.4pt, color=black!60},
  axis line style={line width=0.4pt, color=black!70},
  /pgf/number format/assume math mode=true,
  ticklabel style={font=\fontsize{30}{30}\selectfont\bfseries, inner sep=0pt},
  xticklabel style={yshift=-3.6pt}, yticklabel style={xshift=-0.8pt},
  xlabel={Residue index}, ylabel={Residue index},
  label style={font=\fontsize{30}{30}\selectfont\bfseries, inner sep=0pt},
  xlabel style={at={(axis description cs:0.5,0)},anchor=center,yshift=-45pt},
  ylabel style={at={(axis description cs:0,0.5)},anchor=center,yshift=54pt},
  colormap={contact}{
    color=(c1) color=(c2) color=(c3) color=(c4) color=(c5) color=(c6) color=(c7) color=(c8)
    color=(c9) color=(c10) color=(c11) color=(c12) color=(c13) color=(c14) color=(c15) color=(c16)},
  colormap access=piecewise constant,
  point meta min=0.75, point meta max=21.26,
]
\pgfplotsinvokeforeach{1,...,81}{
  \addplot[scatter, only marks, mark=square*, mark size=5.32pt, line width=0pt,
    forget plot, point meta=explicit,
    scatter/use mapped color={draw=mapped color, fill=mapped color}]
    table[x expr={#1}, y index=0, meta index=#1]{\contactdata};
}
\end{axis}
\begin{axis}[
  at={(860.5pt,0pt)}, anchor=south west,
  scale only axis, width=6pt, height=848pt,
  xmin=0, xmax=1, ymin=0.75, ymax=21.26,
  xtick=\empty, ytick={5,10,15,20},
  yticklabel pos=right, tick align=outside, major tick length=4pt,
  tick style={line width=0.4pt, color=black!60},
  axis line style={line width=0.4pt, color=black!70},
  /pgf/number format/assume math mode=true,
  yticklabel style={font=\fontsize{24}{24}\cbf\bfseries, xshift=-4.5pt},
]
\addplot[draw=none, fill=c1] coordinates {(0,0.75)(1,0.75)(1,2.03)(0,2.03)} -- cycle;
\addplot[draw=none, fill=c2] coordinates {(0,2.03)(1,2.03)(1,3.31)(0,3.31)} -- cycle;
\addplot[draw=none, fill=c3] coordinates {(0,3.31)(1,3.31)(1,4.59)(0,4.59)} -- cycle;
\addplot[draw=none, fill=c4] coordinates {(0,4.59)(1,4.59)(1,5.87)(0,5.87)} -- cycle;
\addplot[draw=none, fill=c5] coordinates {(0,5.87)(1,5.87)(1,7.15)(0,7.15)} -- cycle;
\addplot[draw=none, fill=c6] coordinates {(0,7.15)(1,7.15)(1,8.43)(0,8.43)} -- cycle;
\addplot[draw=none, fill=c7] coordinates {(0,8.43)(1,8.43)(1,9.71)(0,9.71)} -- cycle;
\addplot[draw=none, fill=c8] coordinates {(0,9.71)(1,9.71)(1,11.0)(0,11.0)} -- cycle;
\addplot[draw=none, fill=c9] coordinates {(0,11.0)(1,11.0)(1,12.28)(0,12.28)} -- cycle;
\addplot[draw=none, fill=c10] coordinates {(0,12.28)(1,12.28)(1,13.56)(0,13.56)} -- cycle;
\addplot[draw=none, fill=c11] coordinates {(0,13.56)(1,13.56)(1,14.84)(0,14.84)} -- cycle;
\addplot[draw=none, fill=c12] coordinates {(0,14.84)(1,14.84)(1,16.12)(0,16.12)} -- cycle;
\addplot[draw=none, fill=c13] coordinates {(0,16.12)(1,16.12)(1,17.4)(0,17.4)} -- cycle;
\addplot[draw=none, fill=c14] coordinates {(0,17.4)(1,17.4)(1,18.68)(0,18.68)} -- cycle;
\addplot[draw=none, fill=c15] coordinates {(0,18.68)(1,18.68)(1,20)(0,20)} -- cycle;
\addplot[draw=none, fill=c16] coordinates {(0,20)(1,20)(1,21.26)(0,21.26)} -- cycle;
\end{axis}
\end{tikzpicture}
\end{document}
